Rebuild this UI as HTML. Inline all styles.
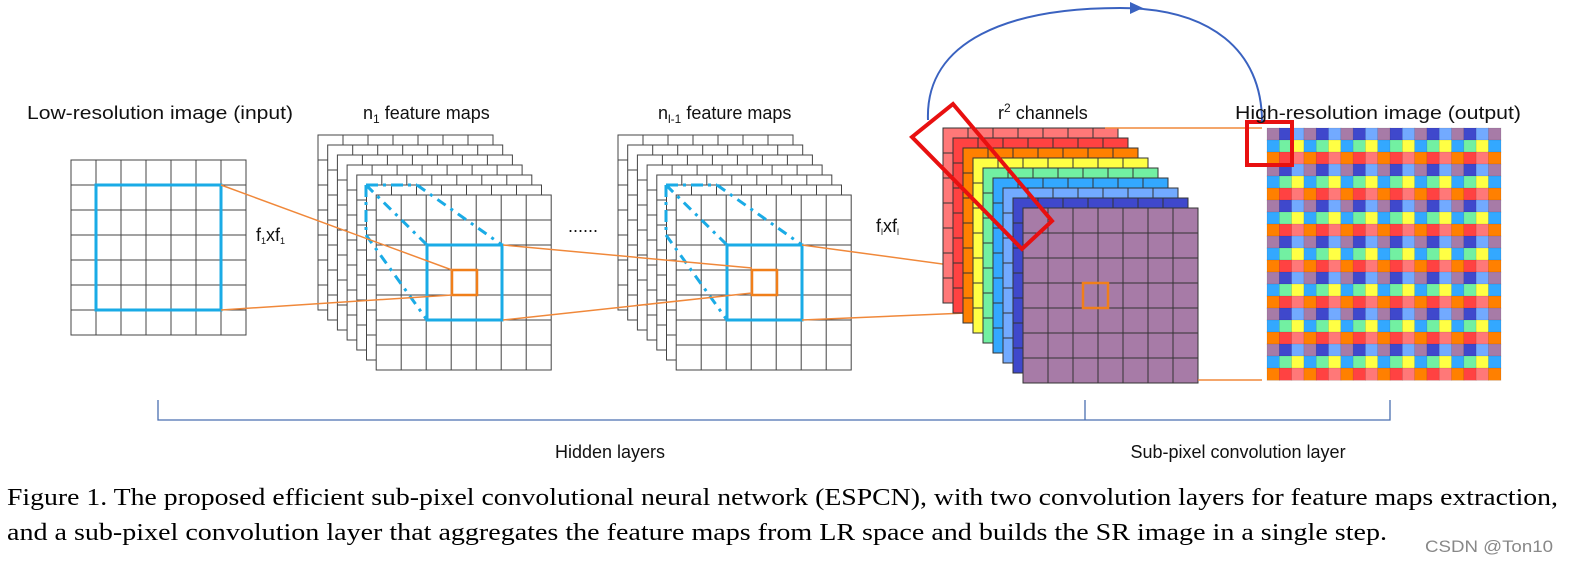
<!DOCTYPE html>
<html><head><meta charset="utf-8"><style>
html,body{margin:0;padding:0;background:#fff;width:1587px;height:568px;overflow:hidden}
svg{display:block}
.l{font-family:"Liberation Sans","DejaVu Sans",sans-serif;font-size:18px;fill:#111}
.c{font-family:"Liberation Serif",serif;font-size:24px;fill:#000}
</style></head><body>
<svg id="s" width="1587" height="568" xmlns="http://www.w3.org/2000/svg">
<g id="g"></g>
<text class="l" x="27" y="119" textLength="266" lengthAdjust="spacingAndGlyphs">Low-resolution image (input)</text>
<text class="l" x="363" y="119">n<tspan font-size="12" dy="4">1</tspan><tspan dy="-4"> feature maps</tspan></text>
<text class="l" x="658" y="119">n<tspan font-size="12" dy="4">l-1</tspan><tspan dy="-4"> feature maps</tspan></text>
<text class="l" x="998" y="119">r<tspan font-size="12" dy="-7">2</tspan><tspan dy="7"> channels</tspan></text>
<text class="l" x="1235" y="119" textLength="286" lengthAdjust="spacingAndGlyphs">High-resolution image (output)</text>
<text class="l" x="256" y="241" font-size="13">f<tspan font-size="9" dy="3">1</tspan><tspan dy="-3">xf</tspan><tspan font-size="9" dy="3">1</tspan></text>
<text class="l" x="876" y="232" font-size="13">f<tspan font-size="9" dy="3">l</tspan><tspan dy="-3">xf</tspan><tspan font-size="9" dy="3">l</tspan></text>
<text class="l" x="568" y="232" font-size="13">......</text>
<path d="M158 400 V420 H1390 V400 M1085 400 V420" fill="none" stroke="#4a6fb0" stroke-width="1.3"/>
<text class="l" x="610" y="458" text-anchor="middle">Hidden layers</text>
<text class="l" x="1238" y="458" text-anchor="middle">Sub-pixel convolution layer</text>
<text class="c" x="7" y="505" textLength="1551" lengthAdjust="spacingAndGlyphs">Figure 1. The proposed efficient sub-pixel convolutional neural network (ESPCN), with two convolution layers for feature maps extraction,</text>
<text class="c" x="7" y="540" textLength="1380" lengthAdjust="spacingAndGlyphs">and a sub-pixel convolution layer that aggregates the feature maps from LR space and builds the SR image in a single step.</text>
<text x="1425" y="552" font-family="Liberation Sans,sans-serif" font-size="17" fill="#888" textLength="128" lengthAdjust="spacingAndGlyphs">CSDN @Ton10</text>
</svg>
<script>
var g=document.getElementById('g'),h='';
function grid(x,y,n,c,fill,stroke){h+='<rect x="'+x+'" y="'+y+'" width="'+n*c+'" height="'+n*c+'" fill="'+fill+'" stroke="'+stroke+'" stroke-width="1"/>';
 var p='';for(var i=1;i<n;i++){p+='M'+(x+i*c)+' '+y+'v'+n*c+'M'+x+' '+(y+i*c)+'h'+n*c;}
 h+='<path d="'+p+'" stroke="'+stroke+'" stroke-width="1" fill="none"/>';}
function line(a,b,c,d,col,w,ex){h+='<line x1="'+a+'" y1="'+b+'" x2="'+c+'" y2="'+d+'" stroke="'+col+'" stroke-width="'+w+'" '+(ex||'')+'/>';}
var O='#f0883a',B='#1aabe6';
grid(71,160,7,25,'#fff','#444');
h+='<rect x="96" y="185" width="125" height="125" fill="none" stroke="'+B+'" stroke-width="3"/>';
[0,300].forEach(function(dx,k){
 for(var i=0;i<7;i++)grid(318+dx+i*9.7,135+i*10,7,25,'#fff','#444');
 var fx=376+dx,fy=195;
 h+='<path d="M'+(fx-10)+' '+(fy-10)+'H'+(fx+41)+'M'+(fx-10)+' '+(fy-10)+'V'+(fy+40)+'" stroke="'+B+'" stroke-width="3" fill="none" stroke-dasharray="12,5,3,5"/>';
 line(fx-10,fy-10,fx+51,fy+50,B,3,'stroke-dasharray="10,6,3,6"');
 line(fx+41,fy-10,fx+126,fy+50,B,3,'stroke-dasharray="10,6,3,6"');
 line(fx-10,fy+40,fx+51,fy+125,B,3,'stroke-dasharray="10,6,3,6"');
 h+='<rect x="'+(fx+51)+'" y="'+(fy+50)+'" width="75" height="75" fill="none" stroke="'+B+'" stroke-width="3"/>';
 h+='<rect x="'+(fx+76)+'" y="'+(fy+75)+'" width="25" height="25" fill="none" stroke="#f07f1a" stroke-width="2.5"/>';
});
line(221,185,452,270,O,1.5);line(221,310,452,295,O,1.5);
line(503,245,752,268,O,1.5);line(503,320,752,293,O,1.5);
line(802,245,1083,283,O,1.5);line(802,320,1083,308,O,1.5);
var cols=['#ff7878','#ff4242','#ff8000','#ffff44','#72f0a2','#33a8ff','#72aaff','#3f48cc','#a77ba7'];
cols.forEach(function(c,i){grid(943+i*10,128+i*10,7,25,c,'#333');});
h+='<rect x="1083" y="283" width="25" height="25" fill="none" stroke="#f07f1a" stroke-width="2.5"/>';
line(1105,128,1262,128,O,1.5);line(1198,380,1262,380,O,1.5);
var pat=[['#a77ba7','#3f48cc','#72aaff'],['#33a8ff','#72f0a2','#ffff44'],['#ff8000','#ff4242','#ff7878']];
var cw=12.3,ch=12.0;
for(var r=0;r<21;r++)for(var c=0;c<19;c++){h+='<rect x="'+(1267+c*cw).toFixed(1)+'" y="'+(128+r*ch).toFixed(1)+'" width="'+(cw+0.3).toFixed(1)+'" height="'+(ch+0.3)+'" fill="'+pat[r%3][c%3]+'" stroke="rgba(0,0,0,0.15)" stroke-width="0.6"/>';}
h+='<polygon points="912,137 953,104 1052,221 1022,249" fill="none" stroke="#e81010" stroke-width="4"/>';
h+='<rect x="1247" y="122" width="45" height="43" fill="none" stroke="#e81010" stroke-width="4"/>';
h+='<path d="M928 120 C 925 40, 1010 8, 1120 8 C 1210 8, 1262 50, 1262 122" fill="none" stroke="#3a62c0" stroke-width="2"/>';
h+='<polygon points="1143,8 1130,2 1130,14" fill="#3a62c0"/>';
g.innerHTML=h;
</script>
</body></html>
